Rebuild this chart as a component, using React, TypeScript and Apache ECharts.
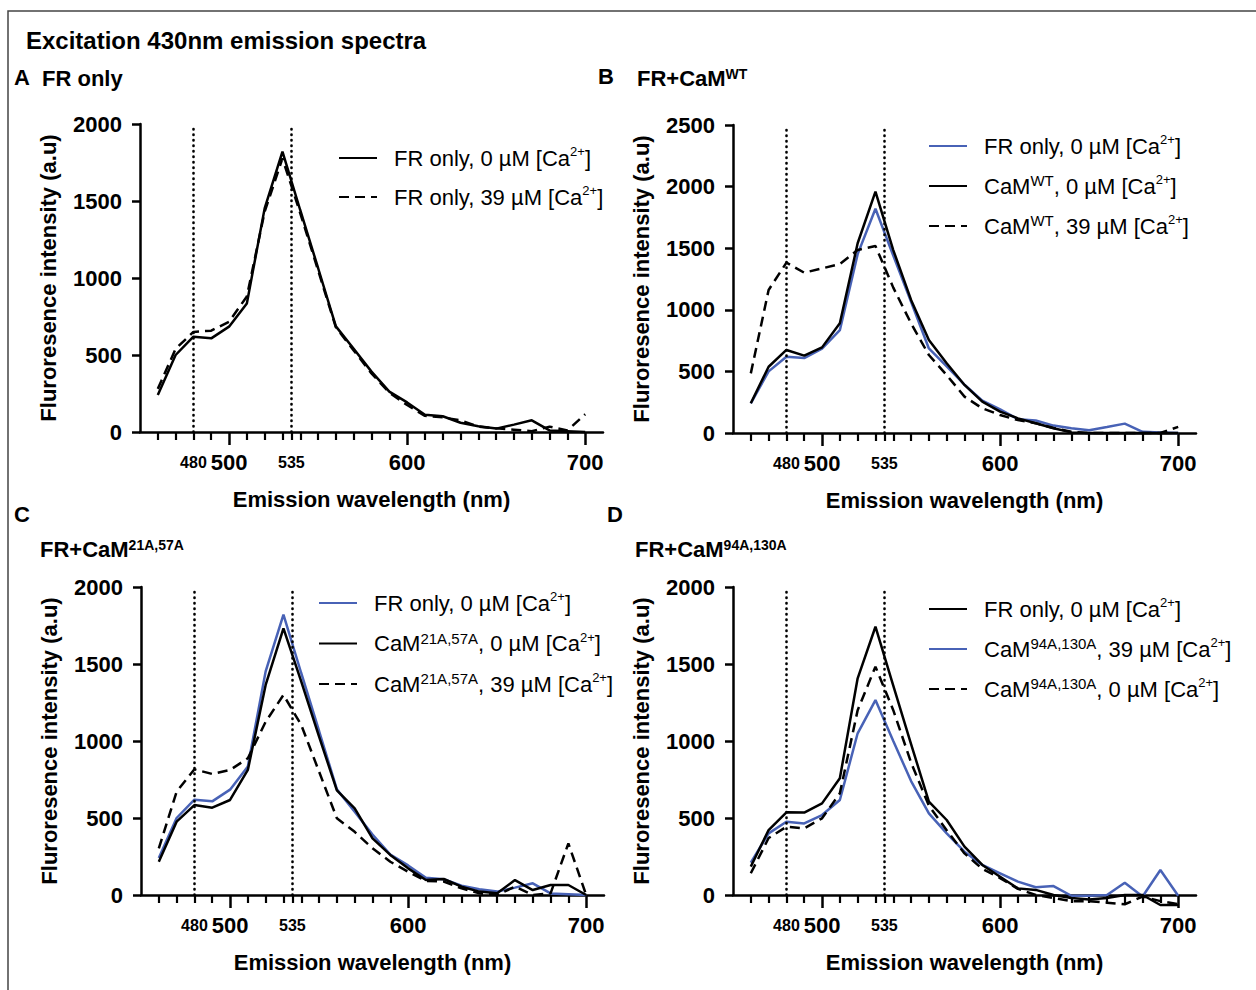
import React, { useEffect, useRef } from "react";
import * as echarts from "echarts";

// ---------- data ----------
const wavelengths = [460, 470, 480, 490, 500, 510, 520, 530, 540, 550, 560, 570, 580, 590, 600, 610, 620, 630, 640, 650, 660, 670, 680, 690, 700];

// FR only, 0 µM Ca2+ (panel A solid, blue in B and C)
const frOnly0 = [240, 500, 619, 608, 684, 835, 1452, 1820, 1440, 1065, 686, 540, 392, 262, 192, 112, 102, 60, 38, 22, 48, 76, 10, 5, 0];
// FR only, 39 µM Ca2+
const frOnly39 = [280, 540, 650, 658, 716, 880, 1430, 1777, 1420, 1050, 680, 530, 380, 255, 175, 105, 95, 75, 35, 24, 15, 5, 35, 10, 115];
// CaM WT
const camWT0 = [241, 538, 674, 628, 695, 890, 1540, 1959, 1485, 1080, 755, 566, 390, 254, 173, 119, 79, 38, 5, 0, 0, 0, 0, 0, 0];
const camWT39 = [484, 1161, 1383, 1301, 1336, 1372, 1485, 1518, 1180, 890, 633, 470, 295, 200, 146, 105, 80, 40, 10, 0, 0, 0, 0, 0, 50];
// CaM 21A,57A
const cam2157_0 = [216, 476, 584, 567, 617, 812, 1364, 1732, 1385, 1028, 680, 563, 368, 260, 173, 97, 104, 54, 22, 11, 97, 32, 65, 65, 0];
const cam2157_39 = [303, 671, 816, 786, 812, 888, 1125, 1299, 1104, 801, 498, 410, 303, 216, 151, 91, 87, 43, 11, 0, 54, 0, 11, 335, 0];
// Panel D
const frOnlyD0 = [184, 422, 537, 535, 595, 758, 1407, 1742, 1360, 980, 606, 487, 314, 195, 119, 43, 33, 0, -20, -30, -20, 0, 0, -65, -65];
const cam94130_39 = [210, 400, 476, 465, 519, 617, 1050, 1266, 1000, 740, 530, 400, 281, 195, 141, 87, 50, 58, -5, -5, 0, 80, -10, 162, -5];
const cam94130_0 = [141, 370, 443, 433, 498, 660, 1200, 1483, 1200, 860, 580, 420, 270, 170, 110, 40, 0, -20, -40, -40, -50, -60, -10, -40, -60];

// ticks
const xMajorTicks = [500, 600, 700];
const xMinorTicks = [460, 470, 480, 490, 510, 520, 530, 535, 540, 550, 560, 570, 580, 590, 610, 620, 630, 640, 650, 660, 670, 680, 690];
const xLabelValues = [480, 500, 535, 600, 700];
const smallXLabels = [480, 535];
const markerWavelengths = [480, 535];

// ---------- styles ----------
const FONT = '"Liberation Sans", Arial, Helvetica, sans-serif';
const BLUE = "#4862b6";
const BLACK = "#000000";

type SDef = { id: string; vals: number[]; color: string; dashed: boolean; label: string; order: number };
type PDef = {
  grid: { left: number; top: number; width: number; height: number };
  yMax: number;
  series: SDef[];
  legend: { left: number; first: number; gap: number };
};

const panels: PDef[] = [
  {
    grid: { left: 140, top: 124, width: 463, height: 308 },
    yMax: 2000,
    series: [
      { id: "A1", vals: frOnly0, color: BLACK, dashed: false, label: "FR only, 0 µM [Ca{c|2+}]", order: 0 },
      { id: "A2", vals: frOnly39, color: BLACK, dashed: true, label: "FR only, 39 µM [Ca{c|2+}]", order: 1 },
    ],
    legend: { left: 338, first: 158, gap: 39 },
  },
  {
    grid: { left: 733, top: 125, width: 463, height: 308 },
    yMax: 2500,
    series: [
      { id: "B1", vals: frOnly0, color: BLUE, dashed: false, label: "FR only, 0 µM [Ca{c|2+}]", order: 0 },
      { id: "B2", vals: camWT0, color: BLACK, dashed: false, label: "CaM{s|WT}, 0 µM [Ca{c|2+}]", order: 1 },
      { id: "B3", vals: camWT39, color: BLACK, dashed: true, label: "CaM{s|WT}, 39 µM [Ca{c|2+}]", order: 2 },
    ],
    legend: { left: 928, first: 146, gap: 40 },
  },
  {
    grid: { left: 141, top: 587, width: 463, height: 308 },
    yMax: 2000,
    series: [
      { id: "C1", vals: frOnly0, color: BLUE, dashed: false, label: "FR only, 0 µM [Ca{c|2+}]", order: 0 },
      { id: "C2", vals: cam2157_0, color: BLACK, dashed: false, label: "CaM{s|21A,57A}, 0 µM [Ca{c|2+}]", order: 1 },
      { id: "C3", vals: cam2157_39, color: BLACK, dashed: true, label: "CaM{s|21A,57A}, 39 µM [Ca{c|2+}]", order: 2 },
    ],
    legend: { left: 318, first: 603, gap: 40.5 },
  },
  {
    grid: { left: 733, top: 587, width: 463, height: 308 },
    yMax: 2000,
    series: [
      { id: "D2", vals: cam94130_39, color: BLUE, dashed: false, label: "CaM{s|94A,130A}, 39 µM [Ca{c|2+}]", order: 1 },
      { id: "D1", vals: frOnlyD0, color: BLACK, dashed: false, label: "FR only, 0 µM [Ca{c|2+}]", order: 0 },
      { id: "D3", vals: cam94130_0, color: BLACK, dashed: true, label: "CaM{s|94A,130A}, 0 µM [Ca{c|2+}]", order: 2 },
    ],
    legend: { left: 928, first: 609, gap: 40 },
  },
];

const legendLabels: Record<string, string> = {};
panels.forEach((p) => p.series.forEach((s) => (legendLabels[s.id] = s.label)));

const axisTitleStyle = { fontSize: 22, fontWeight: "bold" as const, color: BLACK, fontFamily: FONT };

function buildOption() {
  const grid: any[] = [];
  const xAxis: any[] = [];
  const yAxis: any[] = [];
  const series: any[] = [];
  const legend: any[] = [];

  panels.forEach((p, i) => {
    grid.push({ ...p.grid, containLabel: false });
    // main x axis with major ticks + labels
    xAxis.push({
      gridIndex: i,
      type: "value",
      min: 450,
      max: 710,
      position: "bottom",
      axisLine: { show: true, onZero: false, lineStyle: { color: BLACK, width: 2.5 } },
      axisTick: { show: true, customValues: xMajorTicks, length: 13, lineStyle: { color: BLACK, width: 2.5 } },
      axisLabel: {
        show: true,
        customValues: xLabelValues,
        margin: 17,
        formatter: (v: number) => (smallXLabels.includes(Number(v)) ? `{s|${v}}` : `{b|${v}}`),
        rich: {
          b: { fontSize: 22, fontWeight: "bold", fontFamily: FONT, color: BLACK, lineHeight: 26 },
          s: { fontSize: 16, fontWeight: "bold", fontFamily: FONT, color: BLACK, lineHeight: 26 },
        },
      },
      splitLine: { show: false },
      name: "Emission wavelength (nm)",
      nameLocation: "middle",
      nameGap: 56,
      nameTextStyle: axisTitleStyle,
    });
    // minor tick axis
    xAxis.push({
      gridIndex: i,
      type: "value",
      min: 450,
      max: 710,
      position: "bottom",
      axisLine: { show: false, onZero: false },
      axisTick: { show: true, customValues: xMinorTicks, length: 8, lineStyle: { color: BLACK, width: 2.2 } },
      axisLabel: { show: false },
      splitLine: { show: false },
    });
    yAxis.push({
      gridIndex: i,
      type: "value",
      min: 0,
      max: p.yMax,
      interval: 500,
      axisLine: { show: true, onZero: false, lineStyle: { color: BLACK, width: 2.5 } },
      axisTick: { show: true, length: 8, lineStyle: { color: BLACK, width: 2.5 } },
      axisLabel: {
        margin: 18,
        fontSize: 22,
        fontWeight: "bold",
        color: BLACK,
        fontFamily: FONT,
        formatter: (v: number) => String(v),
      },
      splitLine: { show: false },
      name: "Fluroresence intensity (a.u)",
      nameLocation: "middle",
      nameRotate: 90,
      nameGap: 81,
      nameTextStyle: axisTitleStyle,
    });

    p.series.forEach((s, k) => {
      const ser: any = {
        type: "line",
        name: s.id,
        xAxisIndex: 2 * i,
        yAxisIndex: i,
        data: wavelengths.map((w, j) => [w, s.vals[j]]),
        symbol: "none",
        showSymbol: false,
        clip: false,
        color: s.color,
        lineStyle: { color: s.color, width: 2.5, type: s.dashed ? [10, 6] : "solid" },
        itemStyle: { color: s.color },
      };
      if (k === 0) {
        ser.markLine = {
          silent: true,
          symbol: ["none", "none"],
          label: { show: false },
          animation: false,
          lineStyle: { color: BLACK, width: 2.6, type: [0.5, 5], cap: "round" },
          data: markerWavelengths.map((w) => ({ xAxis: w })),
        };
      }
      series.push(ser);
    });

    const ordered = [...p.series].sort((a, b) => a.order - b.order).map((s) => s.id);
    legend.push({
      orient: "vertical",
      left: p.legend.left,
      top: p.legend.first - 13,
      padding: 0,
      itemWidth: 38,
      itemHeight: 14,
      itemGap: p.legend.gap - 26,
      selectedMode: false,
      itemStyle: { opacity: 0, borderWidth: 0 },
      data: ordered,
      formatter: (name: string) => legendLabels[name],
      textStyle: {
        fontSize: 22,
        fontFamily: FONT,
        color: BLACK,
        lineHeight: 26,
        padding: [0, 0, 0, 12],
        rich: {
          c: { fontSize: 13, fontFamily: FONT, color: BLACK, verticalAlign: "top" },
          s: { fontSize: 15, fontFamily: FONT, color: BLACK, verticalAlign: "top" },
        },
      },
    });
  });

  const textEl = (x: number, y: number, text: string, size: number, rich?: any) => ({
    type: "text",
    x,
    y,
    silent: true,
    style: {
      text,
      fontSize: size,
      fontWeight: "bold",
      fontFamily: FONT,
      fill: BLACK,
      verticalAlign: "middle",
      align: "left",
      rich,
    },
  });
  const supRich = { s: { fontSize: 14, fontWeight: "bold", fontFamily: FONT, fill: BLACK, verticalAlign: "top" } };

  const graphic = [
    {
      type: "rect",
      silent: true,
      shape: { x: 8, y: 11, width: 1262, height: 1000 },
      style: { fill: "none", stroke: "#444", lineWidth: 1.5 },
    },
    textEl(26, 40, "Excitation 430nm emission spectra", 24),
    textEl(14, 77, "A", 22),
    textEl(42, 78, "FR only", 22),
    textEl(598, 76, "B", 22),
    textEl(637, 78, "FR+CaM{s|WT}", 22, supRich),
    textEl(14, 514, "C", 22),
    textEl(40, 549, "FR+CaM{s|21A,57A}", 22, supRich),
    textEl(607, 514, "D", 22),
    textEl(635, 549, "FR+CaM{s|94A,130A}", 22, supRich),
  ];

  return {
    animation: false,
    backgroundColor: "#ffffff",
    textStyle: { fontFamily: FONT },
    grid,
    xAxis,
    yAxis,
    series,
    legend,
    graphic,
  };
}

export default function App() {
  const ref = useRef<HTMLDivElement>(null);
  useEffect(() => {
    if (!ref.current) return;
    const chart = echarts.init(ref.current, undefined, { renderer: "svg" });
    chart.setOption(buildOption() as any);
    return () => chart.dispose();
  }, []);
  return (
    <div
      ref={ref}
      style={{ position: "fixed", left: 0, top: 0, width: 1256, height: 990, background: "#fff" }}
    />
  );
}
